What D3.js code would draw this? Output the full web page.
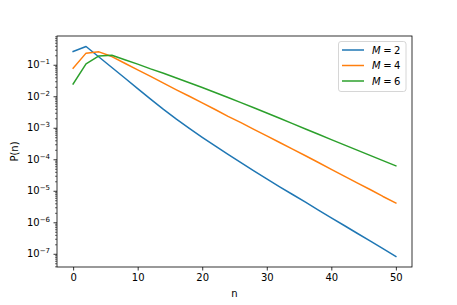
<!DOCTYPE html>
<html>
<head>
<meta charset="utf-8">
<script src="https://cdn.jsdelivr.net/npm/d3@7"></script>
<style>
  body { margin: 0; background: #fff; }
  text { font-family: "DejaVu Sans", sans-serif; }
</style>
</head>
<body>
<div id="chart"></div>
<script>
// data (P(n) at even n)
var nValues = [0,2,4,6,8,10,12,14,16,18,20,22,24,26,28,30,32,34,36,38,40,42,44,46,48,50];
var pM2 = [0.263,0.38,0.176,0.0817,0.0379,0.0175,8.13e-3,3.84e-3,1.88e-3,9.55e-4,4.99e-4,2.65e-4,1.43e-4,
           7.8e-5,4.28e-5,2.39e-5,1.34e-5,7.62e-6,4.33e-6,2.45e-6,1.39e-6,7.91e-7,4.49e-7,2.55e-7,1.45e-7,8.2e-8];
var pM4 = [0.078,0.234,0.257,0.182,0.112,0.069,0.043,0.026,0.016,0.010,6.2e-3,3.8e-3,2.3e-3,
           1.45e-3,8.9e-4,5.5e-4,3.4e-4,2.1e-4,1.29e-4,7.9e-5,4.8e-5,2.9e-5,1.78e-5,1.10e-5,6.6e-6,4.1e-6];
var pM6 = [0.0245,0.107,0.19,0.20,0.145,0.105,0.074,0.054,0.038,0.027,0.019,0.0132,9.1e-3,
           6.3e-3,4.3e-3,2.95e-3,2.0e-3,1.35e-3,9.1e-4,6.2e-4,4.2e-4,2.86e-4,1.95e-4,1.33e-4,9.06e-5,6.2e-5];
var seriesNames = ['2','4','6'];
var xTicks = [0,10,20,30,40,50];
var yExponents = [-7,-6,-5,-4,-3,-2,-1];

var colors = ['#1f77b4','#ff7f0e','#2ca02c'];
var W = 457, H = 305;
var box = {left:57, right:412, top:36, bottom:267};

var series = [pM2,pM4,pM6].map(function(vals,i){
  return { name: seriesNames[i], color: colors[i],
           points: vals.map(function(v,j){ return {n:nValues[j], p:v}; }) };
});

// matplotlib style 5% margins (log space for y)
var xmin = d3.min(nValues), xmax = d3.max(nValues);
var xpad = (xmax - xmin) * 0.05;
var allP = [].concat(pM2,pM4,pM6);
var lmin = Math.log10(d3.min(allP)), lmax = Math.log10(d3.max(allP));
var lpad = (lmax - lmin) * 0.05;

var x = d3.scaleLinear().domain([xmin - xpad, xmax + xpad]).range([box.left, box.right]);
var y = d3.scaleLog().domain([Math.pow(10, lmin - lpad), Math.pow(10, lmax + lpad)]).range([box.bottom, box.top]);

var svg = d3.select('#chart').append('svg')
  .attr('width', W).attr('height', H);

var plot = svg.append('g');
var line = d3.line()
  .x(function(d){ return x(d.n); })
  .y(function(d){ return y(d.p); });

plot.selectAll('path.series').data(series).enter()
  .append('path')
  .attr('class','series')
  .attr('fill','none')
  .attr('stroke', function(d){ return d.color; })
  .attr('stroke-width', 1.5)
  .attr('stroke-linejoin','round')
  .attr('stroke-linecap','square')
  .attr('d', function(d){ return line(d.points); });

// x axis
var xAxis = d3.axisBottom(x).tickValues(xTicks).tickSize(3.5).tickPadding(3.5);
var gx = svg.append('g').attr('transform','translate(0,' + box.bottom + ')').call(xAxis);
gx.select('.domain').remove();
gx.selectAll('line').attr('stroke','#000').attr('stroke-width',0.8);
gx.selectAll('text').attr('font-size',10).attr('fill','#000')
  .attr('font-family','DejaVu Sans, sans-serif');

// y axis, majors
var majors = yExponents.map(function(e){ return Math.pow(10,e); });
var yAxis = d3.axisLeft(y).tickValues(majors).tickSize(3.5).tickPadding(3.5).tickFormat('');
var gy = svg.append('g').attr('transform','translate(' + box.left + ',0)').call(yAxis);
gy.select('.domain').remove();
gy.selectAll('line').attr('stroke','#000').attr('stroke-width',0.8);
gy.selectAll('.tick').each(function(d,i){
  var t = d3.select(this).select('text')
    .attr('font-size',10).attr('fill','#000').attr('x',-7).attr('dy','0.32em')
    .attr('font-family','DejaVu Sans, sans-serif');
  t.append('tspan').text('10');
  t.append('tspan').attr('font-size',7).attr('dy','-0.6em').text('\u2212' + Math.abs(yExponents[i]));
});

// y axis, minors
var minors = [];
var dom = y.domain();
for (var e = -9; e <= 0; e++){
  for (var k = 2; k <= 9; k++){
    var v = k * Math.pow(10,e);
    if (v >= dom[0] && v <= dom[1]) minors.push(v);
  }
}
var gym = svg.append('g').attr('transform','translate(' + box.left + ',0)')
  .call(d3.axisLeft(y).tickValues(minors).tickSize(2).tickFormat(''));
gym.select('.domain').remove();
gym.selectAll('line').attr('stroke','#000').attr('stroke-width',0.6);

// frame
svg.append('rect')
  .attr('x', box.left).attr('y', box.top)
  .attr('width', box.right - box.left).attr('height', box.bottom - box.top)
  .attr('fill','none').attr('stroke','#000').attr('stroke-width',0.8);

// axis labels
svg.append('text').attr('x', (box.left + box.right)/2).attr('y', 297)
  .attr('text-anchor','middle').attr('font-size',10).text('n');
svg.append('text')
  .attr('transform','translate(18,' + ((box.top + box.bottom)/2) + ') rotate(-90)')
  .attr('text-anchor','middle').attr('font-size',10).text('P(n)');

// legend
var leg = svg.append('g');
leg.append('rect')
  .attr('x',338.5).attr('y',41.5).attr('width',67.5).attr('height',50)
  .attr('rx',2.5).attr('fill','#fff').attr('fill-opacity',0.8)
  .attr('stroke','#ccc').attr('stroke-width',0.8);
var rows = leg.selectAll('g.row').data(series).enter()
  .append('g').attr('class','row')
  .attr('transform', function(d,i){ return 'translate(0,' + (50 + i*15.5) + ')'; });
rows.append('line')
  .attr('x1',342).attr('x2',364)
  .attr('stroke', function(d){ return d.color; }).attr('stroke-width',1.5);
var lt = rows.append('text').attr('x',372).attr('y',3.6).attr('font-size',10);
lt.append('tspan').attr('font-style','italic').text('M');
lt.append('tspan').attr('dx',2.5).text('=');
lt.append('tspan').attr('dx',2.5).text(function(d){ return d.name; });
</script>
</body>
</html>
